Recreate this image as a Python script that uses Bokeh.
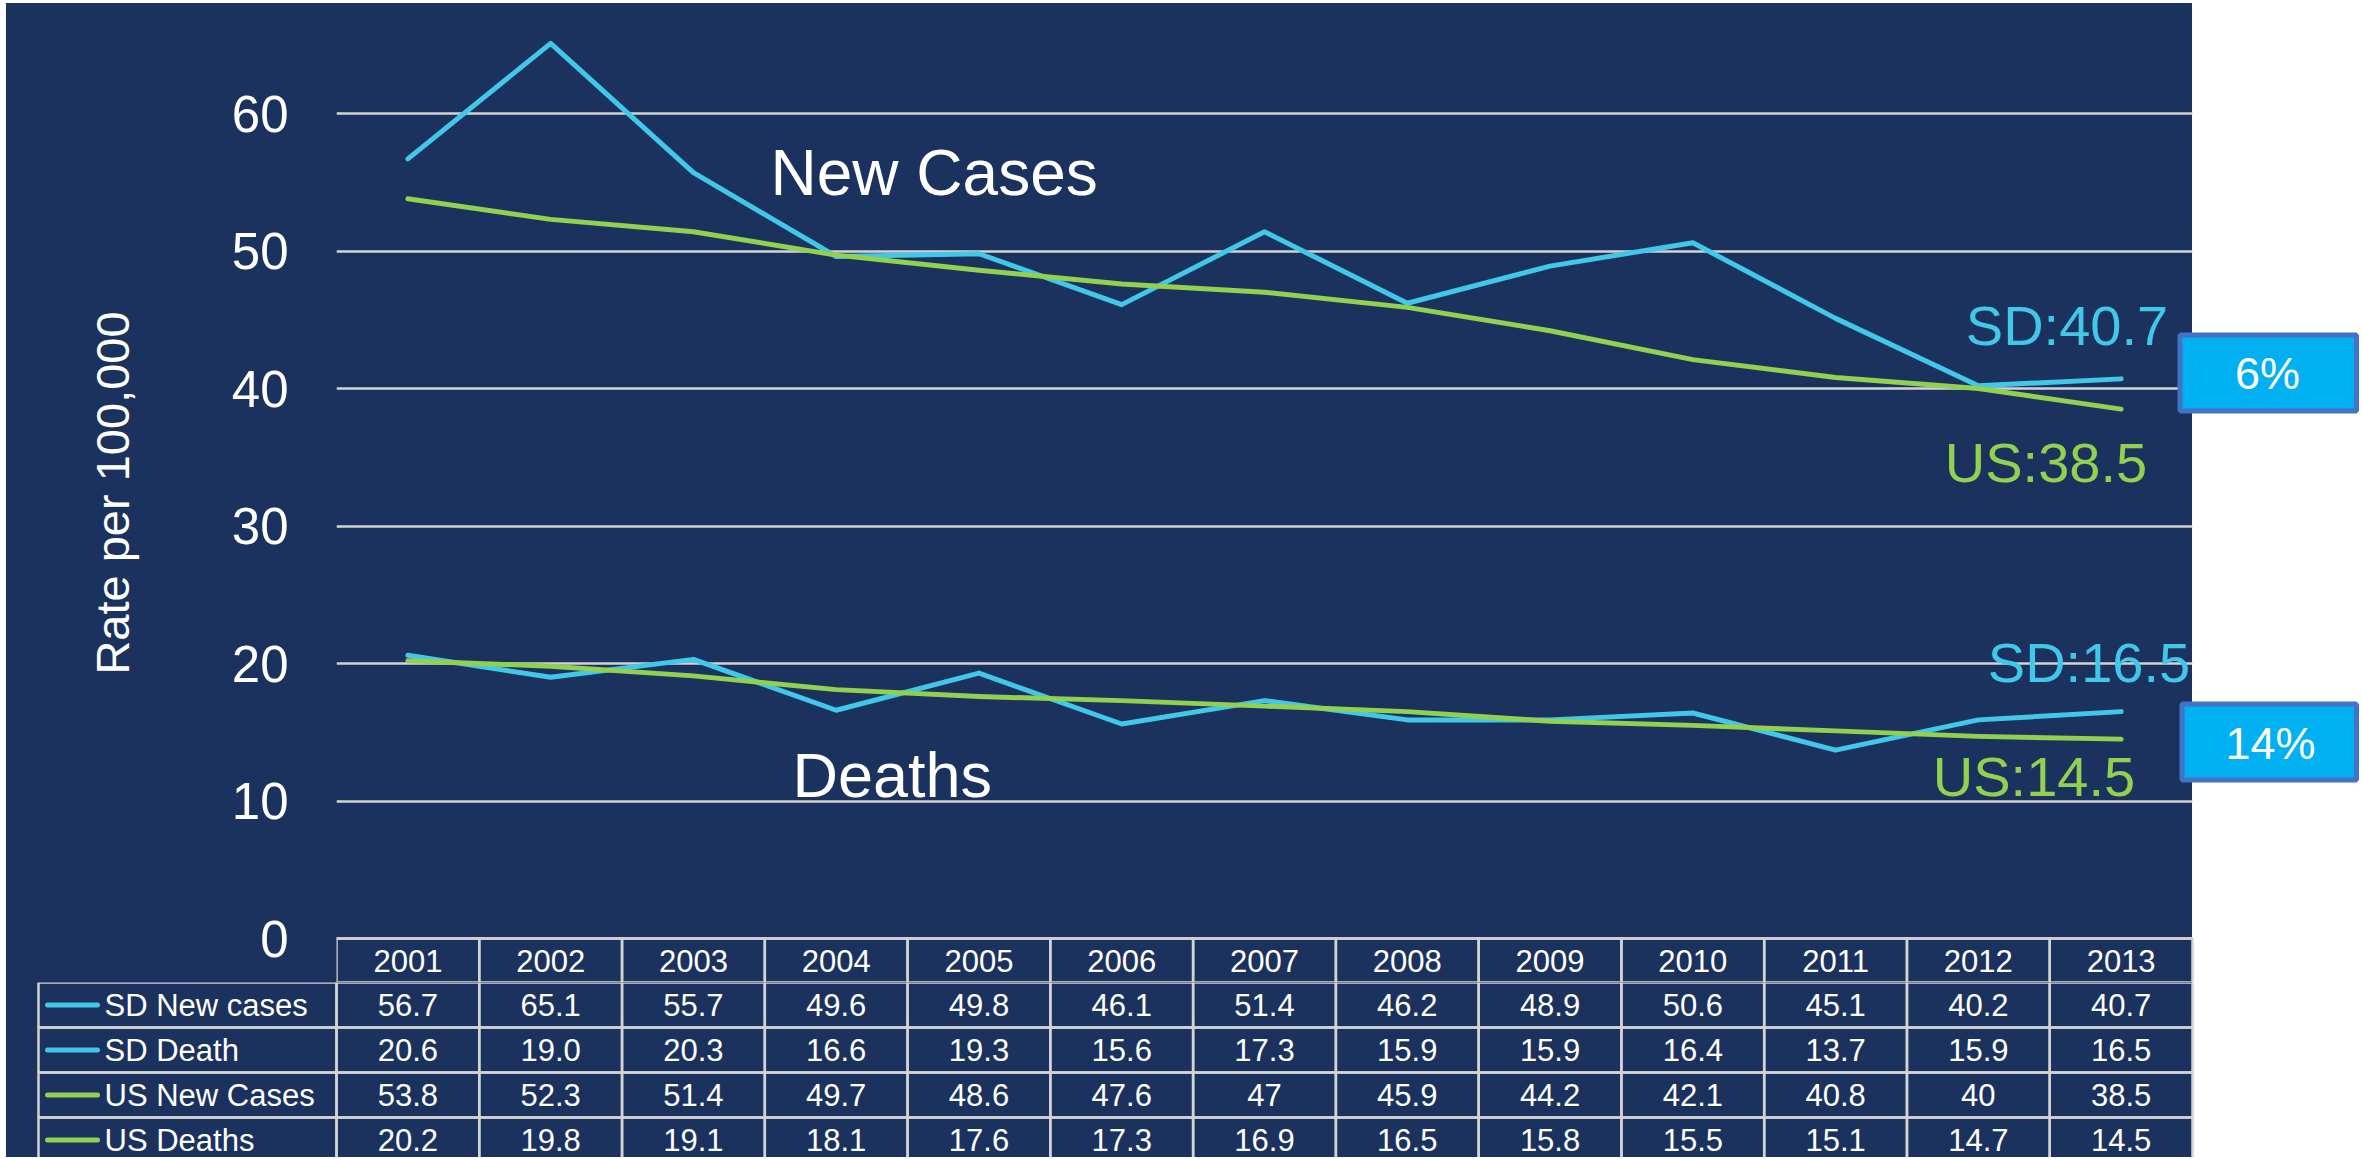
from bokeh.plotting import figure
from bokeh.models import Range1d, FixedTicker, BoxAnnotation
from bokeh.core.properties import value
from bokeh.embed import file_html
from bokeh.resources import INLINE

# ---------------- data ----------------
years = [2001, 2002, 2003, 2004, 2005, 2006, 2007, 2008, 2009, 2010, 2011, 2012, 2013]
sd_new_cases = [56.7, 65.1, 55.7, 49.6, 49.8, 46.1, 51.4, 46.2, 48.9, 50.6, 45.1, 40.2, 40.7]
sd_deaths = [20.6, 19.0, 20.3, 16.6, 19.3, 15.6, 17.3, 15.9, 15.9, 16.4, 13.7, 15.9, 16.5]
us_new_cases = [53.8, 52.3, 51.4, 49.7, 48.6, 47.6, 47, 45.9, 44.2, 42.1, 40.8, 40, 38.5]
us_deaths = [20.2, 19.8, 19.1, 18.1, 17.6, 17.3, 16.9, 16.5, 15.8, 15.5, 15.1, 14.7, 14.5]
row_names = ["SD New cases", "SD Death", "US New Cases", "US Deaths"]
y_ticks = [0, 10, 20, 30, 40, 50, 60]
y_title = "Rate per 100,000"
group_titles = ["New Cases", "Deaths"]

# ---------------- style / layout ----------------
NAVY = "#1B325F"
BLUE = "#41C7E7"
GREEN = "#92D050"
GRID = "#D3D3D3"
BOX_FILL = "#00B0F0"
BOX_LINE = "#4472C4"
FONT = value("Liberation Sans")
FONT_NAME = "Liberation Sans"

W = 2354
FRAME_LEFT = 330
COL = 142.77
UNIT = 13.75
Y60 = 110
ZERO = Y60 + 60 * UNIT
HA = 979
HB = 175
ROW = 45


def dx(px):
    return years[0] - 0.5 + (px - FRAME_LEFT) / COL


def dy(py):
    return (ZERO - py) / UNIT


x_end = dx(W)
right_edge = years[-1] + 0.5
PANEL_RIGHT = round(FRAME_LEFT + len(years) * COL)
HOST_BG = {"background-image": f"linear-gradient(to right, {NAVY} 0px, {NAVY} {PANEL_RIGHT}px, "
                               f"#ffffff {PANEL_RIGHT}px, #ffffff 100%)"}

# ---------------- chart ----------------
pA = figure(width=W, height=HA,
            x_range=Range1d(years[0] - 0.5, x_end),
            y_range=Range1d(dy(HA), dy(0)),
            output_backend="svg", toolbar_location=None,
            x_axis_location=None, y_axis_location="left",
            min_border_left=FRAME_LEFT, min_border_right=0,
            min_border_top=0, min_border_bottom=0,
            background_fill_color=None, border_fill_color=None,
            outline_line_color=None)
pA.margin = (3, 0, 0, 6)
pA.styles = HOST_BG

ax = pA.yaxis[0]
ax.ticker = FixedTicker(ticks=y_ticks)
ax.axis_label = y_title
ax.axis_label_text_font = FONT_NAME
ax.axis_label_text_font_size = "47px"
ax.axis_label_text_font_style = "normal"
ax.axis_label_text_color = "white"
ax.axis_label_standoff = 90
ax.major_label_text_font = FONT_NAME
ax.major_label_text_font_size = "51px"
ax.major_label_text_color = "white"
ax.major_label_standoff = 48
ax.axis_line_color = None
ax.major_tick_line_color = None
ax.minor_tick_line_color = None
ax.major_tick_out = 0
ax.major_tick_in = 0

pA.xgrid.visible = False
pA.ygrid.grid_line_color = GRID
pA.ygrid.grid_line_width = 2.5

pA.add_layout(BoxAnnotation(left=right_edge, fill_color="white", fill_alpha=1.0,
                            line_color=None, level="underlay"))

for ys, col in [(sd_new_cases, BLUE), (sd_deaths, BLUE), (us_new_cases, GREEN), (us_deaths, GREEN)]:
    pA.line(years, ys, line_color=col, line_width=5, line_cap="round", line_join="round")

# group titles
pA.text(x=[dx(764)], y=[dy(169)], text=[group_titles[0]], text_color="white",
        text_font=FONT, text_font_size="64px", text_align="left", text_baseline="middle")
pA.text(x=[dx(786)], y=[dy(771)], text=[group_titles[1]], text_color="white",
        text_font=FONT, text_font_size="63px", text_align="left", text_baseline="middle")

# end labels anchored at last points
end_labels = [
    (sd_new_cases, "SD", BLUE, 47, -53),
    (us_new_cases, "US", GREEN, 26, 53),
    (sd_deaths, "SD", BLUE, 69, -49),
    (us_deaths, "US", GREEN, 14, 37),
]
for ys, name, col, xo, yo in end_labels:
    pA.text(x=[years[-1]], y=[ys[-1]], text=[f"{name}:{ys[-1]}"], text_color=col,
            text_font=FONT, text_font_size="56px", text_align="right",
            text_baseline="middle", x_offset=xo, y_offset=yo)

# percentage difference boxes
boxes = [
    (sd_new_cases, us_new_cases, 2171, 329, 410, 2261, 370),
    (sd_deaths, us_deaths, 2173, 698, 779, 2264, 740),
]
for sd, us, left_px, top_px, bot_px, cx, cy in boxes:
    pct = round(100 * (sd[-1] - us[-1]) / us[-1])
    pA.quad(left=[dx(left_px + 2.5)], right=[dx(W - 4)], top=[dy(top_px + 2.5)],
            bottom=[dy(bot_px - 2.5)],
            fill_color=BOX_FILL, line_color=BOX_LINE, line_width=5)
    pA.text(x=[dx(cx)], y=[dy(cy)], text=[f"{pct}%"], text_color="white",
            text_font=FONT, text_font_size="45px", text_align="center", text_baseline="middle")

# table header (years)
pA.quad(left=[y - 0.5 for y in years], right=[y + 0.5 for y in years],
        top=[0] * len(years), bottom=[dy(HA)] * len(years),
        fill_color=None, line_color=GRID, line_width=2.5)
pA.text(x=years, y=[dy((ZERO + HA) / 2)] * len(years), text=[str(y) for y in years],
        text_color="white", text_font=FONT, text_font_size="31px",
        text_align="center", text_baseline="middle")

# ---------------- data table ----------------
pB = figure(width=W, height=HB,
            x_range=Range1d(dx(0), x_end),
            y_range=Range1d(-HB / ROW, 0),
            output_backend="svg", toolbar_location=None,
            x_axis_location=None, y_axis_location=None,
            min_border_left=0, min_border_right=0, min_border_top=0, min_border_bottom=0,
            background_fill_color=None, border_fill_color=None,
            outline_line_color=None)
pB.margin = (0, 0, 0, 6)
pB.styles = HOST_BG
pB.xgrid.visible = False
pB.ygrid.visible = False

rows = [(sd_new_cases, BLUE, ".1f"), (sd_deaths, BLUE, ".1f"),
        (us_new_cases, GREEN, "g"), (us_deaths, GREEN, "g")]
for k, (vals, col, fmt) in enumerate(rows):
    top, bot, mid = -k, -k - 1, -k - 0.5
    pB.quad(left=[dx(32)], right=[years[0] - 0.5], top=[top], bottom=[bot],
            fill_color=None, line_color=GRID, line_width=2.5)
    pB.quad(left=[y - 0.5 for y in years], right=[y + 0.5 for y in years],
            top=[top] * len(years), bottom=[bot] * len(years),
            fill_color=None, line_color=GRID, line_width=2.5)
    pB.segment(x0=[dx(41)], x1=[dx(91)], y0=[mid], y1=[mid], line_color=col,
               line_width=5, line_cap="round")
    pB.text(x=[dx(98)], y=[mid], text=[row_names[k]], text_color="white",
            text_font=FONT, text_font_size="31px", text_align="left", text_baseline="middle")
    pB.text(x=years, y=[mid] * len(years), text=[format(v, fmt) for v in vals],
            text_color="white", text_font=FONT, text_font_size="31px",
            text_align="center", text_baseline="middle")

open("out.html", "w").write(file_html([pA, pB], INLINE))
